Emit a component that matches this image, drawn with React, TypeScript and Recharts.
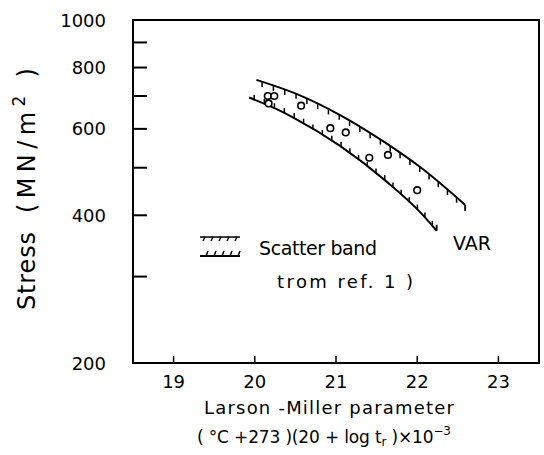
import React from "react";
import { ComposedChart, Line, Scatter, XAxis, YAxis, ReferenceArea, Customized } from "recharts";

// axis ticks
const xTicks = [19, 20, 21, 22, 23];
const yTicks = [200, 300, 400, 500, 600, 700, 800, 900, 1000];
const yLabelled = [200, 400, 600, 800, 1000];

// scatter band from ref. 1 (upper and lower bounds)
const upperLM = [20.02, 20.52, 21.05, 21.56, 22.06, 22.59];
const upperStress = [755, 706, 640, 569, 498, 420];
const lowerLM = [19.93, 20.27, 20.48, 21.05, 21.62, 22.03, 22.24];
const lowerStress = [695, 658, 632, 554, 469, 407, 372];

// VAR test points
const varLM = [20.16, 20.24, 20.17, 20.57, 20.93, 21.12, 21.41, 21.64, 22.0];
const varStress = [700, 700, 676, 669, 602, 590, 524, 531, 450];

const upperData = upperLM.map((x, i) => ({ x, y: upperStress[i] }));
const lowerData = lowerLM.map((x, i) => ({ x, y: lowerStress[i] }));
const varData = varLM.map((x, i) => ({ x, y: varStress[i] }));

const FONT = "'DejaVu Sans', sans-serif";

// short hatch marks walked along the drawn band edge
function hatch(points: any[], dir: number, step: number, len: number, key: string) {
  const marks: React.ReactNode[] = [];
  let carry = step * 0.5;
  for (let i = 0; i < points.length - 1; i++) {
    const a = points[i];
    const b = points[i + 1];
    const d = Math.hypot(b.x - a.x, b.y - a.y);
    let t = carry;
    while (t <= d) {
      const px = a.x + ((b.x - a.x) * t) / d;
      const py = a.y + ((b.y - a.y) * t) / d;
      marks.push(<line key={`${key}${marks.length}`} x1={px} y1={py} x2={px} y2={py + dir * len} stroke="#000" strokeWidth={1.5} />);
      t += step;
    }
    carry = t - d;
  }
  const last = points[points.length - 1];
  marks.push(<line key={`${key}end`} x1={last.x} y1={last.y} x2={last.x} y2={last.y + dir * (len + 1)} stroke="#000" strokeWidth={1.8} />);
  return <g key={key}>{marks}</g>;
}

const upperDot = (props: any) =>
  props.index === 0 && props.points ? hatch(props.points, 1, 12, 5, "uh") : <g key={`u${props.index}`} />;
const lowerDot = (props: any) =>
  props.index === 0 && props.points ? hatch(props.points, -1, 11, 5, "lh") : <g key={`l${props.index}`} />;

const YTick = (props: any) => {
  const { x, y, payload } = props;
  return (
    <g>
      <line x1={x} y1={y} x2={x + 14} y2={y} stroke="#000" strokeWidth={2} />
      {yLabelled.includes(payload.value) && (
        <text x={x - 27} y={y} dy={6.5} textAnchor="end" fontSize={18} fontFamily={FONT} fill="#000">
          {payload.value}
        </text>
      )}
    </g>
  );
};

const XTick = (props: any) => {
  const { x, y, payload } = props;
  return (
    <g>
      <line x1={x} y1={y} x2={x} y2={y - 7} stroke="#000" strokeWidth={1.5} />
      <text x={x} y={y + 25} textAnchor="middle" fontSize={18} fontFamily={FONT} fill="#000">
        {payload.value}
      </text>
    </g>
  );
};

const Annotations = () => (
  <g fontFamily={FONT} fill="#000">
    <text transform="rotate(-90)" x={-310} y={35} fontSize={24} textLength={78} lengthAdjust="spacing">Stress</text>
    <text transform="rotate(-90)" x={-213} y={35} fontSize={24} textLength={145} lengthAdjust="spacing">
      (MN/m<tspan fontSize={17} dy={-10}>2</tspan><tspan dy={10}> )</tspan>
    </text>
    <text x={204} y={414} fontSize={18} textLength={250} lengthAdjust="spacing">Larson -Miller   parameter</text>
    <text x={197} y={443} fontSize={17} textLength={254} lengthAdjust="spacing">
      ( °C +273 )(20 + log t<tspan fontSize={12} dy={3}>r</tspan><tspan dy={-3}> )×10</tspan><tspan fontSize={12} dy={-8}>−3</tspan>
    </text>
    <g stroke="#000" strokeWidth={1.5}>
      <line x1={200} y1={237} x2={240} y2={237} />
      <line x1={200} y1={256} x2={240} y2={256} strokeWidth={2} />
      {[0, 1, 2, 3, 4].map((i) => (
        <g key={i}>
          <line x1={205 + i * 8} y1={237} x2={203 + i * 8} y2={241} />
          <line x1={206 + i * 8} y1={256} x2={208 + i * 8} y2={251} />
        </g>
      ))}
    </g>
    <text x={259} y={255} fontSize={19} textLength={118} lengthAdjust="spacing">Scatter band</text>
    <text x={277} y={288} fontSize={18} textLength={136} lengthAdjust="spacing">trom  ref.  1 )</text>
    <text x={453} y={250} fontSize={19} textLength={38} lengthAdjust="spacing">VAR</text>
  </g>
);

const VarCircle = (props: any) => (
  <circle cx={props.cx} cy={props.cy} r={3.3} fill="#fff" stroke="#000" strokeWidth={1.6} />
);

export default function App() {
  return (
    <div style={{ position: "absolute", left: 0, top: 0, background: "#fff" }}>
      <ComposedChart width={544} height={455} margin={{ top: 20, right: 5, bottom: 0, left: 0 }}>
        <XAxis
          type="number"
          dataKey="x"
          domain={[18.5, 23.5]}
          ticks={xTicks}
          allowDataOverflow
          height={92}
          tickSize={0}
          tickMargin={0}
          axisLine={false}
          tick={<XTick />}
        />
        <YAxis
          type="number"
          dataKey="y"
          scale="log"
          domain={[200, 1000]}
          ticks={yTicks}
          allowDataOverflow
          width={133}
          tickSize={0}
          tickMargin={0}
          axisLine={false}
          interval={0}
          tick={<YTick />}
        />
        <ReferenceArea x1={18.5} x2={23.5} y1={200} y2={1000} fill="none" stroke="#000" strokeWidth={2} ifOverflow="visible" />
        <Line data={upperData} dataKey="y" type="monotone" stroke="#000" strokeWidth={2} dot={upperDot} isAnimationActive={false} />
        <Line data={lowerData} dataKey="y" type="monotone" stroke="#000" strokeWidth={2} dot={lowerDot} isAnimationActive={false} />
        <Scatter data={varData} dataKey="y" shape={<VarCircle />} isAnimationActive={false} />
        <Customized component={<Annotations />} />
      </ComposedChart>
    </div>
  );
}
